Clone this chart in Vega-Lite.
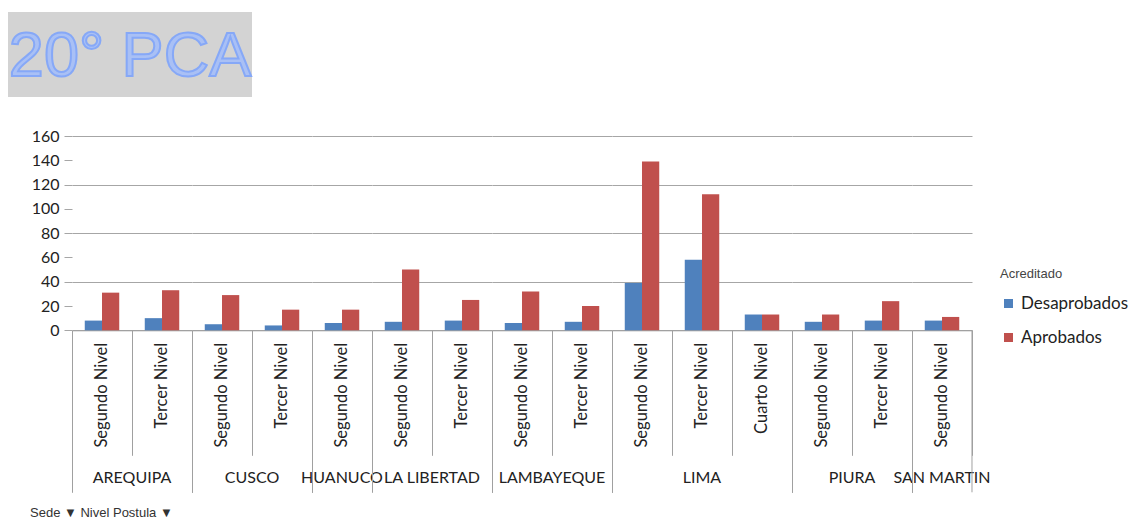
{
  "$schema": "https://vega.github.io/schema/vega-lite/v6.json",
  "padding": {"left": 8, "top": 12, "right": 5, "bottom": 3},
  "background": "white",
  "datasets": {
    "pca": [
      {"Sede": "AREQUIPA", "Nivel": "Segundo Nivel", "Acreditado": "Desaprobados", "Cantidad": 8},
      {"Sede": "AREQUIPA", "Nivel": "Segundo Nivel", "Acreditado": "Aprobados", "Cantidad": 31},
      {"Sede": "AREQUIPA", "Nivel": "Tercer Nivel", "Acreditado": "Desaprobados", "Cantidad": 10},
      {"Sede": "AREQUIPA", "Nivel": "Tercer Nivel", "Acreditado": "Aprobados", "Cantidad": 33},
      {"Sede": "CUSCO", "Nivel": "Segundo Nivel", "Acreditado": "Desaprobados", "Cantidad": 5},
      {"Sede": "CUSCO", "Nivel": "Segundo Nivel", "Acreditado": "Aprobados", "Cantidad": 29},
      {"Sede": "CUSCO", "Nivel": "Tercer Nivel", "Acreditado": "Desaprobados", "Cantidad": 4},
      {"Sede": "CUSCO", "Nivel": "Tercer Nivel", "Acreditado": "Aprobados", "Cantidad": 17},
      {"Sede": "HUANUCO", "Nivel": "Segundo Nivel", "Acreditado": "Desaprobados", "Cantidad": 6},
      {"Sede": "HUANUCO", "Nivel": "Segundo Nivel", "Acreditado": "Aprobados", "Cantidad": 17},
      {"Sede": "LA LIBERTAD", "Nivel": "Segundo Nivel", "Acreditado": "Desaprobados", "Cantidad": 7},
      {"Sede": "LA LIBERTAD", "Nivel": "Segundo Nivel", "Acreditado": "Aprobados", "Cantidad": 50},
      {"Sede": "LA LIBERTAD", "Nivel": "Tercer Nivel", "Acreditado": "Desaprobados", "Cantidad": 8},
      {"Sede": "LA LIBERTAD", "Nivel": "Tercer Nivel", "Acreditado": "Aprobados", "Cantidad": 25},
      {"Sede": "LAMBAYEQUE", "Nivel": "Segundo Nivel", "Acreditado": "Desaprobados", "Cantidad": 6},
      {"Sede": "LAMBAYEQUE", "Nivel": "Segundo Nivel", "Acreditado": "Aprobados", "Cantidad": 32},
      {"Sede": "LAMBAYEQUE", "Nivel": "Tercer Nivel", "Acreditado": "Desaprobados", "Cantidad": 7},
      {"Sede": "LAMBAYEQUE", "Nivel": "Tercer Nivel", "Acreditado": "Aprobados", "Cantidad": 20},
      {"Sede": "LIMA", "Nivel": "Segundo Nivel", "Acreditado": "Desaprobados", "Cantidad": 39},
      {"Sede": "LIMA", "Nivel": "Segundo Nivel", "Acreditado": "Aprobados", "Cantidad": 139},
      {"Sede": "LIMA", "Nivel": "Tercer Nivel", "Acreditado": "Desaprobados", "Cantidad": 58},
      {"Sede": "LIMA", "Nivel": "Tercer Nivel", "Acreditado": "Aprobados", "Cantidad": 112},
      {"Sede": "LIMA", "Nivel": "Cuarto Nivel", "Acreditado": "Desaprobados", "Cantidad": 13},
      {"Sede": "LIMA", "Nivel": "Cuarto Nivel", "Acreditado": "Aprobados", "Cantidad": 13},
      {"Sede": "PIURA", "Nivel": "Segundo Nivel", "Acreditado": "Desaprobados", "Cantidad": 7},
      {"Sede": "PIURA", "Nivel": "Segundo Nivel", "Acreditado": "Aprobados", "Cantidad": 13},
      {"Sede": "PIURA", "Nivel": "Tercer Nivel", "Acreditado": "Desaprobados", "Cantidad": 8},
      {"Sede": "PIURA", "Nivel": "Tercer Nivel", "Acreditado": "Aprobados", "Cantidad": 24},
      {"Sede": "SAN MARTIN", "Nivel": "Segundo Nivel", "Acreditado": "Desaprobados", "Cantidad": 8},
      {"Sede": "SAN MARTIN", "Nivel": "Segundo Nivel", "Acreditado": "Aprobados", "Cantidad": 11}
    ],
    "titulo": [{"t": "20° PCA"}]
  },
  "config": {
    "view": {"stroke": null},
    "font": "Lato",
    "concat": {"spacing": 31}
  },
  "title": {
    "text": "Sede ▼   Nivel Postula ▼",
    "orient": "bottom",
    "anchor": "start",
    "fontSize": 13,
    "font": "Liberation Sans",
    "fontWeight": "normal",
    "color": "#333333",
    "offset": 14,
    "dx": 22
  },
  "vconcat": [
    {
      "width": 244,
      "height": 85,
      "view": {"fill": "#d3d3d3", "stroke": null},
      "data": {"name": "titulo"},
      "mark": {
        "type": "text",
        "font": "Liberation Sans",
        "fontSize": 63,
        "fill": "#a9c0f5",
        "stroke": "#86a8f7",
        "strokeWidth": 2,
        "align": "center",
        "baseline": "middle",
        "dy": 2
      },
      "encoding": {"text": {"field": "t", "type": "nominal"}}
    },
    {
      "spacing": 0,
      "bounds": "flush",
      "hconcat": [
        {
          "width": 64,
          "height": 194.3,
          "data": {"name": "pca"},
          "mark": {"type": "point", "opacity": 0},
          "encoding": {
            "y": {
              "field": "Cantidad",
              "type": "quantitative",
              "scale": {"domain": [0, 160], "nice": false},
              "title": null,
              "axis": {
                "values": [0, 20, 40, 60, 80, 100, 120, 140, 160],
                "offset": -64,
                "domain": false,
                "grid": false,
                "tickColor": "#a6a6a6",
                "tickSize": 8,
                "labelPadding": 5,
                "labelFontSize": 16,
                "labelFont": "Lato",
                "labelColor": "#222222"
              }
            }
          }
        },
        {
          "data": {"name": "pca"},
          "bounds": "flush",
          "spacing": 0,
          "facet": {
            "column": {
              "field": "Sede",
              "type": "nominal",
              "sort": ["AREQUIPA", "CUSCO", "HUANUCO", "LA LIBERTAD", "LAMBAYEQUE", "LIMA", "PIURA", "SAN MARTIN"],
              "header": {
                "title": null,
                "labelOrient": "bottom",
                "labelPadding": 147,
                "labelFontSize": 16,
                "labelFont": "Lato",
                "labelColor": "#222222",
                "labelBaseline": "middle"
              }
            }
          },
          "resolve": {"scale": {"x": "independent"}},
          "spec": {
            "width": {"step": 17.2413},
            "height": 194.3,
            "layer": [
              {
                "mark": {"type": "bar"},
                "encoding": {
                  "x": {
                    "field": "Nivel",
                    "type": "nominal",
                    "sort": ["Segundo Nivel", "Tercer Nivel", "Cuarto Nivel"],
                    "scale": {"paddingInner": 0, "paddingOuter": 0},
                    "title": null,
                    "axis": {
                      "tickBand": "extent",
                      "labelAngle": -90,
                      "labelFontSize": 16.5,
                      "labelFont": "Lato",
                      "labelColor": "#222222",
                      "domainColor": "#a0a0a0",
                      "tickColor": "#a0a0a0",
                      "tickSize": {"condition": {"test": "datum.extra || datum.index === 1", "value": 162}, "value": 125},
                      "labelPadding": {"condition": {"test": "datum.extra || datum.index === 1", "value": -150}, "value": -113}
                    }
                  },
                  "xOffset": {
                    "field": "Acreditado",
                    "type": "nominal",
                    "sort": ["Desaprobados", "Aprobados"],
                    "scale": {"paddingInner": 0, "paddingOuter": 0.74}
                  },
                  "y": {
                    "field": "Cantidad",
                    "type": "quantitative",
                    "scale": {"domain": [0, 160], "nice": false},
                    "title": null,
                    "axis": {
                      "values": [0, 20, 40, 60, 80, 100, 120, 140, 160],
                      "domain": false,
                      "grid": true,
                      "gridColor": "#a6a6a6",
                      "ticks": false,
                      "labels": false,
                      "minExtent": 0,
                      "maxExtent": 0
                    }
                  },
                  "color": {
                    "field": "Acreditado",
                    "type": "nominal",
                    "sort": ["Desaprobados", "Aprobados"],
                    "scale": {"domain": ["Desaprobados", "Aprobados"], "range": ["#4f81bd", "#c0504d"]},
                    "legend": {
                      "title": "Acreditado",
                      "orient": "none",
                      "legendX": 992,
                      "legendY": 256,
                      "titleFontSize": 13,
                      "titleFontWeight": "normal",
                      "titleColor": "#444444",
                      "titleFont": "Liberation Sans",
                      "titlePadding": 14,
                      "symbolType": "square",
                      "symbolSize": 81,
                      "symbolStrokeWidth": 0,
                      "labelFontSize": 17,
                      "labelFont": "Lato",
                      "labelColor": "#222222",
                      "rowPadding": 16,
                      "labelOffset": 4
                    }
                  }
                }
              },
              {
                "transform": [{"filter": "datum.Sede === 'SAN MARTIN' && datum.Acreditado === 'Aprobados'"}],
                "mark": {"type": "rule", "clip": false, "color": "#a0a0a0", "strokeWidth": 1},
                "encoding": {
                  "x": {"field": "Nivel", "type": "nominal", "bandPosition": 1, "sort": ["Segundo Nivel", "Tercer Nivel", "Cuarto Nivel"], "title": null},
                  "y": {"datum": 0, "type": "quantitative", "title": null},
                  "y2": {"datum": -133.4}
                }
              }
            ]
          }
        }
      ]
    }
  ]
}
